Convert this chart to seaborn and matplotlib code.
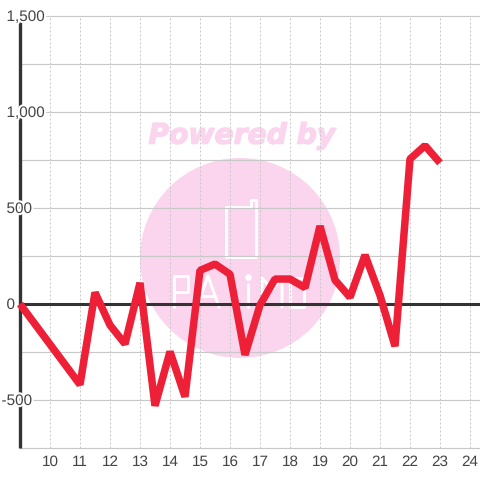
import numpy as np
import pandas as pd
import matplotlib
matplotlib.use("Agg")
import matplotlib.pyplot as plt
import matplotlib.patheffects as pe
from matplotlib.patches import Circle
import seaborn as sns

hours = [9, 9.5, 10, 10.5, 11, 11.5, 12, 12.5, 13, 13.5, 14, 14.5, 15, 15.5, 16,
         16.5, 17, 17.5, 18, 18.5, 19, 19.5, 20, 20.5, 21, 21.5, 22, 22.5, 23]
values = [0, -105, -210, -315, -420, 60, -110, -208, 110, -530, -248, -483, 175, 208, 155,
          -265, -5, 130, 130, 85, 406, 125, 35, 255, 45, -220, 755, 825, 735]
x_ticks = list(range(10, 25))
y_ticks = [-500, 0, 500, 1000, 1500]
y_labels = ["-500", "0", "500", "1,000", "1,500"]
y_minor = [-750, -250, 250, 750, 1250]

RED = "#ee2037"
DARK = "#333333"
GRID = "#c8c8c8"
PINK = "#fbd5ee"

sns.set_theme(style="white")
plt.rcParams["font.family"] = ["Liberation Sans", "DejaVu Sans"]
plt.rcParams["text.hinting"] = "none"

df = pd.DataFrame({"hour": hours, "value": values})

fig = plt.figure(figsize=(4.8, 4.8), dpi=100, facecolor="white")

# watermark sits behind the axes, in pixel coords of the figure
bg = fig.add_axes([0, 0, 1, 1], zorder=0)
bg.set_xlim(0, 480)
bg.set_ylim(480, 0)
bg.set_aspect("equal")
bg.axis("off")
bg.add_patch(Circle((240, 258), 100, fc=PINK, ec="none"))
bg.text(242, 136, "Powered by", color=PINK, fontsize=20.3, fontweight="bold", fontstyle="italic",
        family="DejaVu Sans", ha="center", va="center",
        path_effects=[pe.withStroke(linewidth=1, foreground=PINK)])

logo_strokes = [
    [(226, 207), (251, 207), (251, 200), (256, 200), (256, 257), (226, 257), (226, 207)],
    [(174, 307), (174, 276), (188, 276), (188, 292), (174, 292)],
    [(197, 307), (208, 276), (219, 307)],
    [(201, 296), (215, 296)],
    [(248, 284), (248, 307)],
    [(262, 307), (262, 278), (272, 290), (282, 278), (282, 307)],
    [(290, 278), (304, 278), (304, 307), (290, 307), (290, 278)],
]
for stroke in logo_strokes:
    bg.plot([p[0] for p in stroke], [p[1] for p in stroke], color="white", lw=2.1,
            solid_joinstyle="round", solid_capstyle="round")
bg.plot([248], [277], "o", color="white", ms=3.8)

# axes box: x 9 at px 20, 24.33 at px 480; y -750 at px 448, 1500 at px 16
ax = fig.add_axes([20 / 480, 32 / 480, 460 / 480, 432 / 480], zorder=1)
ax.patch.set_alpha(0)
ax.set_xlim(9, 9 + 460 / 30)
ax.set_ylim(-750, 1500)

for sp in ["top", "right", "left", "bottom"]:
    ax.spines[sp].set_visible(False)

ax.set_xticks(x_ticks)
ax.set_yticks(y_ticks)
ax.set_yticks(y_minor, minor=True)
ax.set_yticklabels([])
ax.grid(True, axis="y", which="both", color=GRID, lw=0.85, clip_on=False)
ax.grid(True, axis="x", which="major", color=GRID, lw=0.72, ls=(0, (2, 2)))
ax.set_axisbelow(True)
ax.tick_params(axis="both", which="both", length=0)
ax.tick_params(axis="x", labelsize=11, labelcolor="#444444", pad=5)

ax.axhline(0, color=DARK, lw=2.2, zorder=2)
ax.plot([9, 9], [-750, 1500], color=DARK, lw=2.4, solid_capstyle="butt", zorder=2, clip_on=False)

sns.lineplot(data=df, x="hour", y="value", color=RED, lw=5.4, ax=ax, errorbar=None, zorder=4,
             solid_joinstyle="bevel", solid_capstyle="butt", clip_on=False)
ax.set_xlabel("")
ax.set_ylabel("")

# y labels hang over the spine with a white halo
for t, lab in zip(y_ticks, y_labels):
    dx = -18.5 if lab.startswith("-") else -13.5
    ax.annotate(lab, xy=(9, t), xytext=(dx * 0.72, -0.8), textcoords="offset points",
                ha="left", va="center", fontsize=11, color="#444444", zorder=6,
                annotation_clip=False,
                path_effects=[pe.withStroke(linewidth=3, foreground="white")])

fig.savefig("out.png", dpi=100)
